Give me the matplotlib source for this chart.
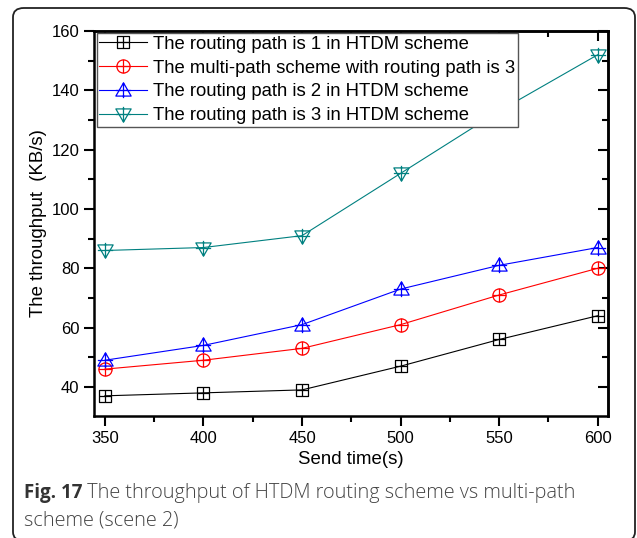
import numpy as np
import matplotlib
matplotlib.use("Agg")
import matplotlib.pyplot as plt
from matplotlib.path import Path
from matplotlib.patches import FancyBboxPatch
from matplotlib.ticker import MultipleLocator, NullFormatter

# ---- data ----
send_time = [350, 400, 450, 500, 550, 600]
path1_htdm = [37, 38, 39, 47, 56, 64]
multipath3 = [46, 49, 53, 61, 71, 80]
path2_htdm = [49, 54, 61, 73, 81, 87]
path3_htdm = [86, 87, 91, 112, 133, 152]
labels = ["The routing path is 1 in HTDM scheme",
          "The multi-path scheme with routing path is 3",
          "The routing path is 2 in HTDM scheme",
          "The routing path is 3 in HTDM scheme"]
colors = ["#000000", "#FF0000", "#0000FF", "#008080"]

# ---- marker paths (shape + plus) ----
def compound(shape_path):
    cross = Path([(-1, 0), (1, 0), (0, -1), (0, 1)],
                 [Path.MOVETO, Path.LINETO, Path.MOVETO, Path.LINETO])
    return Path.make_compound_path(shape_path, cross)

sq = Path([(-1, -1), (1, -1), (1, 1), (-1, 1), (-1, -1)],
          [Path.MOVETO, Path.LINETO, Path.LINETO, Path.LINETO, Path.CLOSEPOLY])
circ = Path.unit_circle()
tri_up = Path([(0, 1), (-1, -0.73), (1, -0.73), (0, 1)],
              [Path.MOVETO, Path.LINETO, Path.LINETO, Path.CLOSEPOLY])
tri_dn = Path([(0, -1), (-1, 0.73), (1, 0.73), (0, -1)],
              [Path.MOVETO, Path.LINETO, Path.LINETO, Path.CLOSEPOLY])
markers = [compound(sq), compound(circ), compound(tri_up), compound(tri_dn)]
msizes = [8.3, 9.5, 11, 11]

plt.rcParams['font.family'] = ['Liberation Sans', 'DejaVu Sans']

fig = plt.figure(figsize=(6.37, 5.38), dpi=100)
# outer rounded frame
frame = FancyBboxPatch((13/637, 1 - 541/538), (635-13)/637, (541-8)/538,
                       boxstyle="round,pad=0,rounding_size=0.017",
                       transform=fig.transFigure, fill=False,
                       edgecolor="#222222", linewidth=1.3, clip_on=False)
fig.patches.append(frame)

ax = fig.add_axes([94/637, 1 - 416/538, (608-94)/637, (416-31)/538])

series = [path1_htdm, multipath3, path2_htdm, path3_htdm]
for ys, c, m, ms, lab in zip(series, colors, markers, msizes, labels):
    ax.plot(send_time, ys, color=c, linewidth=0.8, marker=m, markersize=ms,
            markerfacecolor='none', markeredgecolor=c, markeredgewidth=0.9,
            label=lab)

ax.set_xlim(344.5, 605.2)
ax.set_ylim(30.2, 160)
ax.xaxis.set_major_locator(MultipleLocator(50))
ax.xaxis.set_minor_locator(MultipleLocator(25))
ax.yaxis.set_major_locator(MultipleLocator(20))
ax.yaxis.set_minor_locator(MultipleLocator(10))
ax.tick_params(which='both', direction='out', width=1.5, labelsize=12)
ax.tick_params(which='major', length=7)
ax.tick_params(which='minor', length=4)
for sp in ax.spines.values():
    sp.set_linewidth(1.8)

# inward ticks on top and right
top = ax.secondary_xaxis('top')
top.xaxis.set_major_locator(MultipleLocator(50))
top.xaxis.set_minor_locator(MultipleLocator(25))
top.xaxis.set_major_formatter(NullFormatter())
top.tick_params(which='both', direction='in', width=1.5)
top.tick_params(which='major', length=7)
top.tick_params(which='minor', length=4)
top.spines['top'].set_linewidth(1.8)
right = ax.secondary_yaxis('right')
right.yaxis.set_major_locator(MultipleLocator(20))
right.yaxis.set_minor_locator(MultipleLocator(10))
right.yaxis.set_major_formatter(NullFormatter())
right.tick_params(which='both', direction='in', width=1.5)
right.tick_params(which='major', length=7)
right.tick_params(which='minor', length=4)
right.spines['right'].set_linewidth(1.8)

ax.set_xlabel("Send time(s)", fontsize=13.4, labelpad=4)
ax.set_ylabel("The throughput  (KB/s)", fontsize=13.4, labelpad=3)

leg = ax.legend(loc='upper left', bbox_to_anchor=(0.005, 0.995),
                borderaxespad=0, fontsize=13.3, frameon=True, fancybox=False,
                edgecolor='#555555', framealpha=1, handlelength=2.6,
                handletextpad=0.3, labelspacing=0.37, borderpad=0.15)
leg.get_frame().set_linewidth(1.0)

# caption
cap_kw = dict(fontsize=14.3, family='Open Sans', color='#444444',
              fontweight='light')
t1 = fig.text(24/637, 1 - 498/538, "Fig. 17", fontsize=13.5,
              fontweight='bold', family='Open Sans', color='#333333',
              va='baseline')
ax.annotate(" The throughput of HTDM routing scheme vs multi-path",
            xy=(1, 0), xycoords=t1, va='bottom', ha='left',
            annotation_clip=False, **cap_kw)
fig.text(24/637, 1 - 526/538, "scheme (scene 2)", va='baseline', **cap_kw)

fig.savefig("out.png", dpi=100)
